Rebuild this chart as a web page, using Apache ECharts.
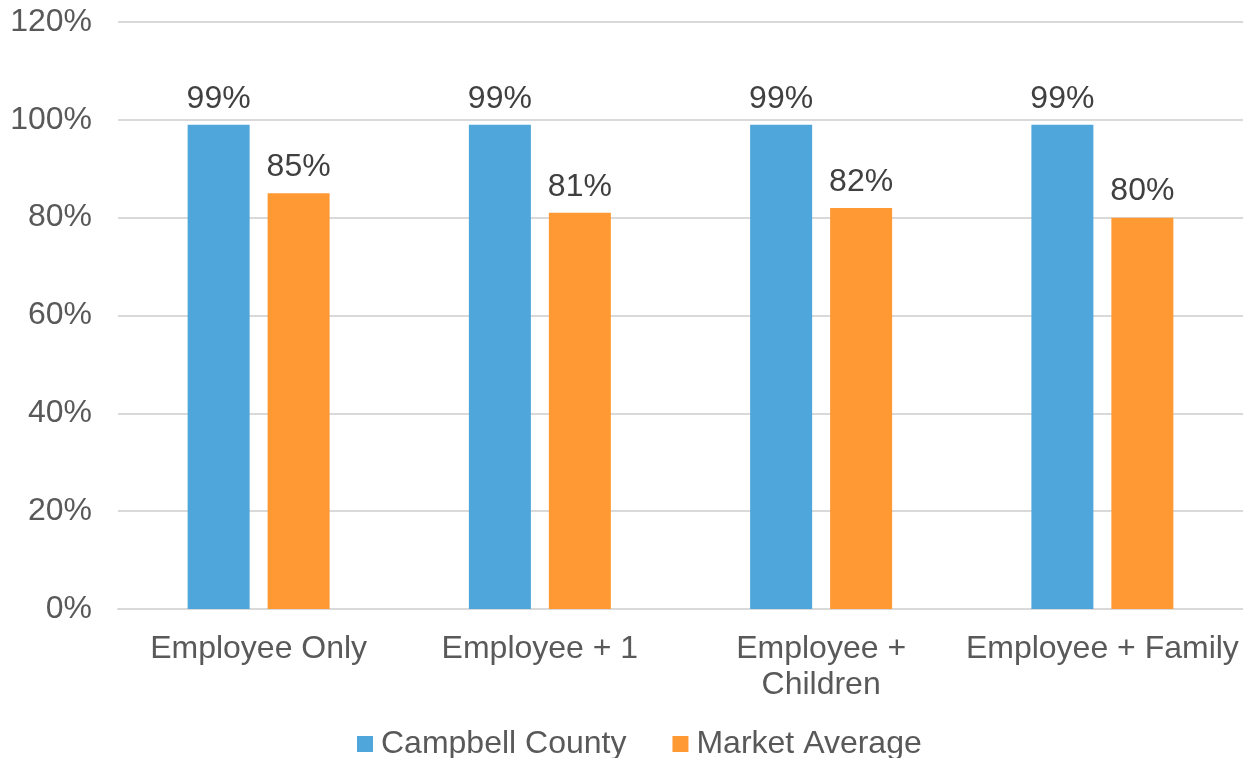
<!DOCTYPE html>
<html>
<head>
<meta charset="utf-8">
<script src="https://cdn.jsdelivr.net/npm/echarts@6/dist/echarts.min.js"></script>
<style>
  html, body { margin: 0; padding: 0; background: #fff; }
  #main { width: 1243px; height: 758px; }
</style>
</head>
<body>
<div id="main"></div>
<script>
var myChart = echarts.init(document.getElementById('main'));

var categories = ['Employee Only', 'Employee + 1', 'Employee +\nChildren', 'Employee + Family'];
var seriesNames = ['Campbell County', 'Market Average'];
var campbell = [99, 99, 99, 99];
var market = [85, 81, 82, 80];

var font = 'Liberation Sans, Arial, sans-serif';

var barLabel = {
    show: true,
    position: 'top',
    distance: 10,
    formatter: '{c}%',
    fontFamily: font,
    fontSize: 32,
    color: '#404040'
};

option = {
    animation: false,
    textStyle: { fontFamily: font },
    grid: {
        left: 118,
        right: 0,
        top: 22,
        bottom: 149,
        containLabel: false
    },
    legend: {
        data: seriesNames,
        top: 723,
        left: 352,
        icon: 'rect',
        itemWidth: 16,
        itemHeight: 16,
        itemGap: 46,
        textStyle: {
            fontFamily: font,
            fontSize: 32,
            color: '#595959',
            padding: [0, 0, 0, 3]
        }
    },
    xAxis: {
        type: 'category',
        data: categories,
        axisLine: { lineStyle: { color: '#d9d9d9', width: 2 } },
        axisTick: { show: false },
        axisLabel: {
            interval: 0,
            margin: 22,
            fontFamily: font,
            fontSize: 32,
            lineHeight: 36,
            color: '#595959'
        }
    },
    yAxis: {
        type: 'value',
        min: 0,
        max: 120,
        interval: 20,
        axisLine: { show: false },
        axisTick: { show: false },
        splitLine: { lineStyle: { color: '#d9d9d9', width: 2 } },
        axisLabel: {
            margin: 26,
            formatter: '{value}%',
            fontFamily: font,
            fontSize: 32,
            color: '#595959'
        }
    },
    series: [
        {
            name: seriesNames[0],
            type: 'bar',
            data: campbell,
            barWidth: 62,
            barGap: '29%',
            itemStyle: { color: '#4fa6db' },
            label: barLabel
        },
        {
            name: seriesNames[1],
            type: 'bar',
            data: market,
            barWidth: 62,
            itemStyle: { color: '#ff9933' },
            label: barLabel
        }
    ]
};

myChart.setOption(option);
</script>
</body>
</html>
